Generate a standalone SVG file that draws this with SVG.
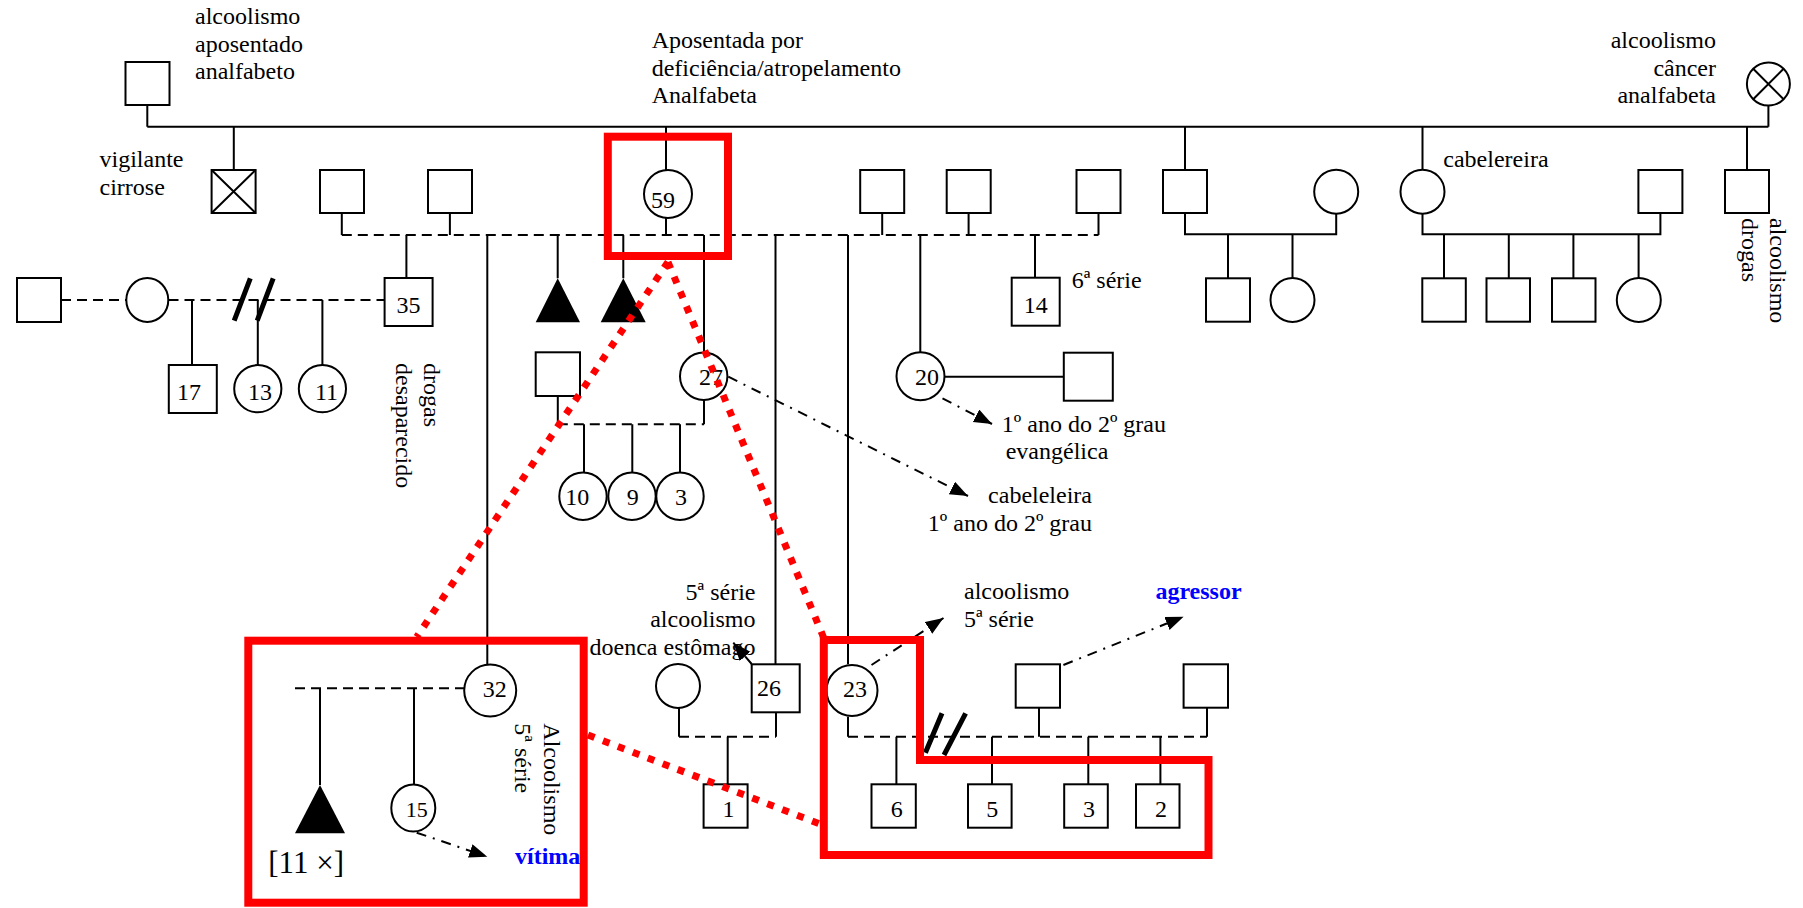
<svg xmlns="http://www.w3.org/2000/svg" width="1803" height="908" viewBox="0 0 1803 908">
<style>
.ln{stroke:#000;stroke-width:2;fill:none}
.ds{stroke-dasharray:10 6}
.dd{stroke-dasharray:10 7 2 7}
.nd{fill:#fff;stroke:#000;stroke-width:2}
.tri{fill:#000}
.t{font-family:"Liberation Serif","Times New Roman",serif;font-size:24px;fill:#000}
.e{text-anchor:end}
.m{text-anchor:middle}
.b{font-weight:bold;fill:#0000ff}
.sl{stroke:#000;stroke-width:5}
.red{stroke:#ff0000;stroke-width:8;fill:none}
.rd{stroke:#ff0000;stroke-width:7;stroke-dasharray:7 9;fill:none}
</style>
<defs>
<marker id="ah" markerUnits="userSpaceOnUse" markerWidth="20" markerHeight="16" refX="18" refY="7" orient="auto">
<path d="M0,0 L18,7 L0,14 Z" fill="#000"/>
</marker>
</defs>
<rect width="1803" height="908" fill="#fff"/>

<g id="connectors">
<path class="ln" d="M147.3 105.3V126.7M147.3 126.7H1768.4M1768.4 105.5V126.7M233.8 126.7V170M666 126.7V170M1185 126.7V170M1422.5 126.7V170M1747 126.7V170"/>
<path class="ln" d="M341.8 213V235M449.9 213V235M666 218V235M882.2 213V235M968.6 213V235M1098.5 213V235"/>
<path class="ln ds" d="M341.8 235H1098.5"/>
<path class="ln" d="M406.4 235V278M487.3 235V664.3M557.7 235V278.3M623.3 235V278.3M704 235V352.7M775.5 235V664.3M848 235V664.3M920.3 235V352.7M1035 235V277.7"/>
<path class="ln" d="M1185 213.3V234.3H1336.2V213.3M1228 234.3V278.3M1292.5 234.3V278.3"/>
<path class="ln" d="M1422.5 213.3V234.3H1660.4V213.3M1444 234.3V278.3M1508.8 234.3V278.3M1573.4 234.3V278.3M1638.6 234.3V278.3"/>
<path class="ln ds" d="M61 300H126M168.5 300H384.6"/>
<path class="ln" d="M192 300V365M257.8 300V365M322.4 300V365"/>
<path class="sl" d="M234.2 320.7L250.3 278.3M257.2 320.7L273.2 278.3"/>
<path class="ln" d="M944.5 376.7H1063.8"/>
<path class="ln" d="M557.8 396V424.3M704 400V424.3M584 424.3V472.7M632.3 424.3V472.7M680 424.3V472.7"/>
<path class="ln ds" d="M557.8 424.3H704"/>
<path class="ln ds" d="M295 688.3H464.3"/>
<path class="ln" d="M320 688.3V785M414 688.3V784.3"/>
<path class="ln" d="M679 707.7V736.7M776 712.7V736.7M727.7 736.7V784.3"/>
<path class="ln ds" d="M679 736.7H776"/>
<path class="ln" d="M848 716.7V736.7M1039 707.7V736.7M1207 707.7V736.7M896.4 736.7V784.3M992 736.7V784.3M1088.3 736.7V784.3M1160.4 736.7V784.3"/>
<path class="ln ds" d="M848 736.7H1207"/>
<path class="sl" d="M925.4 752.7L942 713.3M944 755L965.6 713.3"/>
<path class="ln dd" marker-end="url(#ah)" d="M728.3 376.7L968 496"/>
<path class="ln dd" marker-end="url(#ah)" d="M942.5 398.3L992 424"/>
<path class="ln dd" marker-end="url(#ah)" d="M416.7 832.7L487.3 856.7"/>
<path class="ln dd" marker-end="url(#ah)" d="M751.7 664L733.3 642.7"/>
<path class="ln dd" marker-end="url(#ah)" d="M871.5 665L943.5 618"/>
<path class="ln dd" marker-end="url(#ah)" d="M1063.4 665L1183.6 616.7"/>
</g>

<g id="n-avo"><rect class="nd" x="125.5" y="62" width="44" height="43"/>
<text class="t" x="195" y="24">alcoolismo</text><text class="t" x="195" y="51.5">aposentado</text><text class="t" x="195" y="79">analfabeto</text></g>
<g id="n-avo-f"><circle class="nd" cx="1768.4" cy="84" r="21.5"/><path class="ln" d="M1753.2 68.8L1783.6 99.2M1783.6 68.8L1753.2 99.2"/>
<text class="t e" x="1716" y="48">alcoolismo</text><text class="t e" x="1716" y="75.5">câncer</text><text class="t e" x="1716" y="103">analfabeta</text></g>

<g id="n-vigilante"><rect class="nd" x="211.6" y="170" width="44" height="43"/><path class="ln" d="M211.6 170L255.6 213M255.6 170L211.6 213"/>
<text class="t" x="99.5" y="167">vigilante</text><text class="t" x="99.5" y="194.6">cirrose</text></g>
<g id="n-s1"><rect class="nd" x="320" y="170" width="44" height="43"/></g>
<g id="n-s2"><rect class="nd" x="428" y="170" width="44" height="43"/></g>
<g id="n-59"><circle class="nd" cx="668" cy="194" r="24"/><text class="t m" x="663" y="208">59</text>
<text class="t" x="651.7" y="48">Aposentada por</text><text class="t" x="651.7" y="75.5">deficiência/atropelamento</text><text class="t" x="651.7" y="103">Analfabeta</text></g>
<g id="n-s3"><rect class="nd" x="860.2" y="170" width="44" height="43"/></g>
<g id="n-s4"><rect class="nd" x="946.7" y="170" width="44" height="43"/></g>
<g id="n-s5"><rect class="nd" x="1076.5" y="170" width="44" height="43"/></g>
<g id="n-s6"><rect class="nd" x="1163" y="170" width="44" height="43"/></g>
<g id="n-s6w"><circle class="nd" cx="1336.2" cy="191.7" r="22"/></g>
<g id="n-cabelereira"><circle class="nd" cx="1422.5" cy="191.7" r="22"/><text class="t" x="1443.3" y="166.7">cabelereira</text></g>
<g id="n-cabelereira-h"><rect class="nd" x="1638.4" y="170" width="44" height="43"/></g>
<g id="n-s7"><rect class="nd" x="1725" y="170" width="44" height="43"/>
<g transform="translate(1770 218) rotate(90)"><text class="t" x="0" y="0">alcoolismo</text><text class="t" x="0" y="28">drogas</text></g></g>

<g id="n-l1"><rect class="nd" x="17" y="278" width="44" height="44"/></g>
<g id="n-l2"><ellipse class="nd" cx="147.3" cy="300" rx="21" ry="22"/></g>
<g id="n-35"><rect class="nd" x="384.6" y="278" width="48" height="48"/><text class="t m" x="408.5" y="313">35</text>
<g transform="translate(424 363) rotate(90)"><text class="t" x="0" y="0">drogas</text><text class="t" x="0" y="28">desaparecido</text></g></g>
<g id="n-17"><rect class="nd" x="168.8" y="365" width="48" height="48"/><text class="t m" x="189" y="400">17</text></g>
<g id="n-13"><circle class="nd" cx="257.8" cy="388.7" r="23.6"/><text class="t m" x="260" y="400">13</text></g>
<g id="n-11"><circle class="nd" cx="322.4" cy="388.7" r="23.6"/><text class="t m" x="326.5" y="400">11</text></g>
<g id="n-tri1"><path class="tri" d="M557.7 278.3L580 322.3H535.7Z"/></g>
<g id="n-tri2"><path class="tri" d="M623.3 278.3L645.7 322.3H600.7Z"/></g>
<g id="n-27h"><rect class="nd" x="535.7" y="352.3" width="44.3" height="43.7"/></g>
<g id="n-27"><circle class="nd" cx="703.7" cy="376.3" r="23.7"/><text class="t m" x="711" y="385">27</text>
<text class="t e" x="1092" y="503.3">cabeleleira</text><text class="t e" x="1092" y="530.7">1º ano do 2º grau</text></g>
<g id="n-10"><circle class="nd" cx="583" cy="496.3" r="23.7"/><text class="t m" x="577.3" y="505">10</text></g>
<g id="n-9"><circle class="nd" cx="632" cy="496.3" r="23.7"/><text class="t m" x="632.7" y="505">9</text></g>
<g id="n-3a"><circle class="nd" cx="680" cy="496.3" r="23.7"/><text class="t m" x="681" y="505">3</text></g>
<g id="n-20"><circle class="nd" cx="920.5" cy="376.3" r="24"/><text class="t m" x="927" y="385">20</text>
<text class="t" x="1001.8" y="431.7">1º ano do 2º grau</text><text class="t" x="1005.7" y="459.3">evangélica</text></g>
<g id="n-20h"><rect class="nd" x="1063.8" y="352.7" width="49" height="48"/></g>
<g id="n-14"><rect class="nd" x="1011.7" y="277.7" width="48" height="48"/><text class="t m" x="1035.8" y="312.7">14</text><text class="t" x="1071.7" y="288.3">6ª série</text></g>
<g id="n-r1"><rect class="nd" x="1206" y="278.3" width="44" height="43.4"/></g>
<g id="n-r2"><circle class="nd" cx="1292.5" cy="300" r="22"/></g>
<g id="n-c1"><rect class="nd" x="1422.3" y="278.3" width="43.5" height="43.4"/></g>
<g id="n-c2"><rect class="nd" x="1486.5" y="278.3" width="43.5" height="43.4"/></g>
<g id="n-c3"><rect class="nd" x="1552" y="278.3" width="43.5" height="43.4"/></g>
<g id="n-c4"><circle class="nd" cx="1638.8" cy="300" r="22"/></g>

<g id="n-32"><circle class="nd" cx="490.2" cy="690.5" r="26"/><text class="t m" x="494.7" y="697">32</text>
<g transform="translate(543.5 723.3) rotate(90)"><text class="t" x="0" y="0">Alcoolismo</text><text class="t" x="0" y="28.5">5ª série</text></g></g>
<g id="n-tri3"><path class="tri" d="M320 785L345 833.3H295Z"/><text class="t" x="268.3" y="873" style="font-size:31px">[11 ×]</text></g>
<g id="n-15"><ellipse class="nd" cx="413.3" cy="808" rx="22" ry="23.5"/><text class="t m" x="416.7" y="816.7" style="font-size:22px">15</text>
<text class="t b" x="515" y="864">vítima</text></g>
<g id="n-26w"><circle class="nd" cx="678" cy="686" r="22"/></g>
<g id="n-26"><rect class="nd" x="751.7" y="664.3" width="48" height="48"/><text class="t m" x="769" y="696">26</text>
<text class="t e" x="755.5" y="599.5">5ª série</text><text class="t e" x="755.5" y="627">alcoolismo</text><text class="t e" x="755.5" y="654.5">doenca estômago</text></g>
<g id="n-1"><rect class="nd" x="703.6" y="784.3" width="44" height="43.4"/><text class="t m" x="728.5" y="816.7">1</text></g>
<g id="n-23"><circle class="nd" cx="852" cy="690.5" r="25.5"/><text class="t m" x="855" y="697">23</text>
<text class="t" x="964" y="599.3">alcoolismo</text><text class="t" x="964" y="626.9">5ª série</text></g>
<g id="n-agr"><rect class="nd" x="1015.7" y="664.3" width="44.3" height="43.4"/><text class="t b" x="1155.4" y="599.3">agressor</text></g>
<g id="n-23h2"><rect class="nd" x="1183.6" y="664.3" width="44.4" height="43.4"/></g>
<g id="n-6"><rect class="nd" x="871.5" y="784.3" width="44.3" height="43.4"/><text class="t m" x="896.8" y="816.7">6</text></g>
<g id="n-5"><rect class="nd" x="968" y="784.3" width="43.6" height="43.4"/><text class="t m" x="992.3" y="816.7">5</text></g>
<g id="n-3b"><rect class="nd" x="1064.2" y="784.3" width="43.6" height="43.4"/><text class="t m" x="1089" y="816.7">3</text></g>
<g id="n-2"><rect class="nd" x="1136" y="784.3" width="43.5" height="43.4"/><text class="t m" x="1161" y="816.7">2</text></g>

<g id="highlights">
<rect class="red" x="607.8" y="136.7" width="120.2" height="119.3"/>
<rect class="red" x="248.3" y="640.7" width="335.4" height="262"/>
<path class="red" d="M823.8 640H920V760H1208.5V855H823.8Z"/>
<path class="rd" d="M668 262L416.7 637M668 262L823.8 638M588 735L820 824"/>
</g>
</svg>
